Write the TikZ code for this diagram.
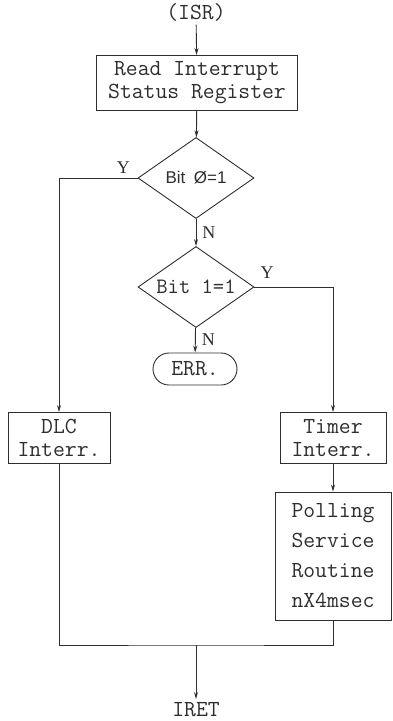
\documentclass[tikz,border=0pt]{standalone}
\usepackage{fontspec}
\setmainfont{Liberation Serif}
\newfontfamily\bitfont{Liberation Sans}
\usetikzlibrary{arrows.meta, positioning, shapes.geometric, shapes.misc}

\begin{document}
\begin{tikzpicture}[x=1pt, y=1pt, line width=0.9pt, color=black!82,
    box/.style={draw, rectangle, inner sep=0pt, align=center, font=\ttfamily\fontsize{23}{23}\selectfont},
    decision/.style={draw, diamond, aspect=1.43, inner sep=0pt, minimum width=116pt, minimum height=81pt},
    flow/.style={-{Stealth[length=7pt,width=4pt]}},
    yn/.style={font=\fontsize{18}{20}\selectfont, inner sep=1pt},
    lbl/.style={font=\ttfamily\fontsize{23}{24}\selectfont}]
  \useasboundingbox (0,0) rectangle (392,-721);

  % nodes
  \node[lbl] (isr) at (196,-12) {(ISR)};
  \node[box, minimum width=201pt, minimum height=55pt] (read) at (197,-83) {Read Interrupt\\Status Register};
  \node[decision, font=\bitfont\fontsize{17}{20}\selectfont] (bit0) at (196,-178) {Bit\enspace Ø=1};
  \node[decision, font=\ttfamily\fontsize{22}{22}\selectfont] (bit1) at (196,-287) {Bit 1=1};
  \node[draw, rounded rectangle, lbl, inner sep=0pt, minimum width=84pt, minimum height=32pt] (err) at (195,-369) {ERR.};
  \node[box, minimum width=102pt, minimum height=51pt] (dlc) at (59,-438) {DLC\\Interr.};
  \node[box, minimum width=106pt, minimum height=51pt] (timer) at (333,-438) {Timer\\Interr.};
  \node[box, minimum width=116pt, minimum height=128pt, font=\ttfamily\fontsize{23}{30}\selectfont] (poll) at (333,-556) {Polling\\Service\\Routine\\nX4msec};
  \coordinate (join) at (196,-645);
  \node[lbl] (iret) at (196,-710) {IRET};

  % connectors
  \draw[flow] (isr) -- (read);
  \draw[flow] (read) -- (bit0);
  \draw[flow] (bit0.west) -| node[yn, pos=0.09, above=3pt] {Y} (dlc.north);
  \draw[flow] (bit0) -- node[yn, right=5pt] {N} (bit1);
  \draw[flow] (bit1.east) -| node[yn, pos=0.08, above=7pt] {Y} (timer.north);
  \draw[flow] (bit1) -- node[yn, right=5pt] {N} (err);
  \draw[flow] (timer) -- (poll);
  \draw (dlc.south) |- (join) -| (poll.south);
  \draw[flow] (join) -- (iret);
\end{tikzpicture}
\end{document}
